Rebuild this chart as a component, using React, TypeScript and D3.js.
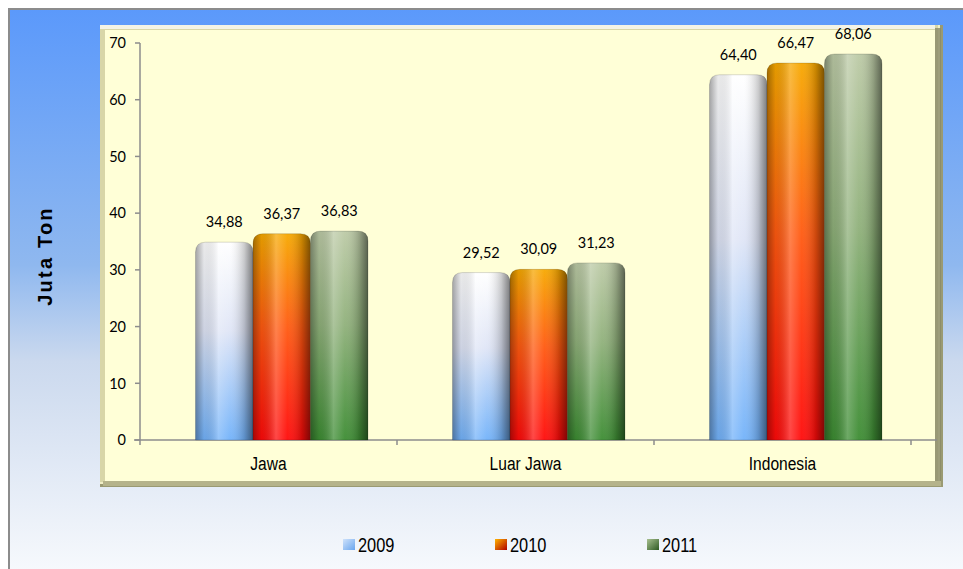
import React from "react";
import * as d3 from "d3";

const categories = ["Jawa", "Luar Jawa", "Indonesia"];
const years = ["2009", "2010", "2011"];
const values2009 = [34.88, 29.52, 64.4];
const values2010 = [36.37, 30.09, 66.47];
const values2011 = [36.83, 31.23, 68.06];
const yTicks = [0, 10, 20, 30, 40, 50, 60, 70];

const series = [values2009, values2010, values2011];

const W = 963;
const H = 569;

export default function App() {
  const x0 = d3.scaleBand<string>().domain(categories).range([140, 911]).padding(0);
  const x1 = d3.scaleBand<string>().domain(years).range([55.5, 228]).padding(0);
  const y = d3.scaleLinear().domain([0, 70]).range([440, 43]);
  const fmt = (v: number) => v.toFixed(2).replace(".", ",");
  const r = 10;
  const barPath = (bx: number, by: number, bw: number, bh: number) => {
    const rr = Math.min(r, bh);
    return `M${bx},${by + bh} L${bx},${by + rr} Q${bx},${by} ${bx + rr},${by} L${bx + bw - rr},${by} Q${bx + bw},${by} ${bx + bw},${by + rr} L${bx + bw},${by + bh} Z`;
  };
  const vgrads = [
    ["#ffffff", "#dfe5f6", "#72b2fa"],
    ["#f7a800", "#ff5a10", "#ff0a0a"],
    ["#bccaa6", "#8fb07a", "#3c8c32"],
  ];
  const legendX = [343, 495, 647];
  const calib = "Lato, 'Noto Sans', sans-serif";
  return (
    <svg width={W} height={H} style={{ position: "absolute", left: 0, top: 0 }} fontFamily="Liberation Sans, Arial, sans-serif">
      <defs>
        <linearGradient id="bg" x1="0" y1="0" x2="0" y2="1">
          <stop offset="0" stopColor="#5b99fb" />
          <stop offset="0.45" stopColor="#8fb8ef" />
          <stop offset="0.62" stopColor="#cbd9ee" />
          <stop offset="1" stopColor="#f8fafd" />
        </linearGradient>
        {vgrads.map((g, i) => (
          <linearGradient key={i} id={`v${i}`} x1="0" y1="0" x2="0" y2="1">
            <stop offset="0" stopColor={g[0]} />
            <stop offset="0.45" stopColor={g[1]} />
            <stop offset="1" stopColor={g[2]} />
          </linearGradient>
        ))}
        <linearGradient id="hshade" x1="0" y1="0" x2="1" y2="0">
          <stop offset="0" stopColor="#000" stopOpacity="0.35" />
          <stop offset="0.15" stopColor="#000" stopOpacity="0.08" />
          <stop offset="0.4" stopColor="#fff" stopOpacity="0.25" />
          <stop offset="0.6" stopColor="#fff" stopOpacity="0.05" />
          <stop offset="0.85" stopColor="#000" stopOpacity="0.2" />
          <stop offset="1" stopColor="#000" stopOpacity="0.5" />
        </linearGradient>
        {[0, 1, 2].map((i) => (
          <linearGradient key={i} id={`lg${i}`} x1="0" y1="0" x2="1" y2="1">
            <stop offset="0" stopColor={["#cfe2fb", "#ffb400", "#a8c090"][i]} />
            <stop offset="1" stopColor={["#6aa6ee", "#b00000", "#2e5a22"][i]} />
          </linearGradient>
        ))}
      </defs>
      {/* outer background */}
      <rect x={9} y={9} width={W} height={H} fill="url(#bg)" stroke="#8c8c8c" strokeWidth={2} />
      {/* bevel panel */}
      <rect x={100} y={25} width={843} height={462} fill="#9a9a72" />
      <rect x={100} y={25} width={840} height={459} fill="#f1efc6" />
      <rect x={100} y={25} width={838} height={457} fill="#d8d6a8" />
      <rect x={100} y={25} width={835} height={4} fill="#ffffff" opacity={0.7} />
      <rect x={105} y={30} width={830} height={451} fill="#ffffd7" />
      <rect x={935} y={28} width={6} height={456} fill="#8a8a68" opacity={0.8} />
      <rect x={103} y={481} width={838} height={5} fill="#b5b38a" />
      {/* axes */}
      <line x1={140} x2={140} y1={y(70)} y2={y(0)} stroke="#8d8d8d" strokeWidth={1.5} />
      <line x1={134} x2={937} y1={y(0)} y2={y(0)} stroke="#8d8d8d" strokeWidth={1.5} />
      {yTicks.map((t) => (
        <g key={t}>
          <line x1={135} x2={140} y1={y(t)} y2={y(t)} stroke="#8d8d8d" strokeWidth={1.5} />
          <text x={126} y={y(t)} dy="0.36em" textAnchor="end" fontSize={14.5} fontFamily={calib} fill="#000">
            {t}
          </text>
        </g>
      ))}
      {[...categories.map((c) => x0(c) as number), 911].map((xx, i) => (
        <line key={i} x1={xx} x2={xx} y1={y(0)} y2={y(0) + 5} stroke="#8d8d8d" strokeWidth={1.5} />
      ))}
      {categories.map((c) => (
        <text
          key={c}
          transform={`translate(${(x0(c) as number) + x0.bandwidth() / 2},470) scale(0.82,1)`}
          textAnchor="middle"
          fontSize={19}
          fill="#000"
        >
          {c}
        </text>
      ))}
      {/* bars */}
      {categories.map((c, ci) =>
        years.map((yr, si) => {
          const v = series[si][ci];
          const bx = (x0(c) as number) + (x1(yr) as number);
          const bw = x1.bandwidth();
          const by = y(v);
          const bh = y(0) - by;
          const d = barPath(bx, by, bw, bh);
          return (
            <g key={c + yr}>
              <path d={d} fill={`url(#v${si})`} />
              <path d={d} fill="url(#hshade)" />
              <path d={d} fill="none" stroke="#000" strokeOpacity={0.15} strokeWidth={1} />
              <text x={bx + bw / 2} y={by - 15} textAnchor="middle" fontSize={14.5} fontFamily={calib} fill="#000">
                {fmt(v)}
              </text>
            </g>
          );
        })
      )}
      {/* y title */}
      <text transform="translate(52,256) rotate(-90)" textAnchor="middle" fontSize={20} fontWeight="bold" fill="#000" style={{ letterSpacing: "2.2px" }}>
        Juta Ton
      </text>
      {/* legend */}
      {years.map((yr, i) => (
        <g key={yr}>
          <rect x={legendX[i]} y={539} width={12} height={11} fill={`url(#lg${i})`} />
          <text transform={`translate(${legendX[i] + 15},552) scale(0.82,1)`} fontSize={20} fill="#000">
            {yr}
          </text>
        </g>
      ))}
    </svg>
  );
}
